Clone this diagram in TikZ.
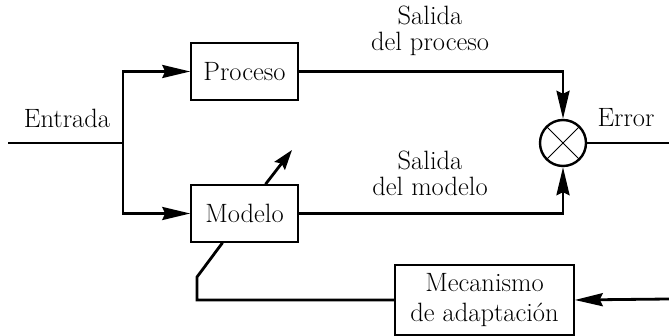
\documentclass[tikz,border=0pt]{standalone}
\usepackage{fontspec}
\usetikzlibrary{arrows.meta, positioning}

\begin{document}
\begin{tikzpicture}[x=1pt, y=-1pt, >={Stealth[length=28pt, width=13pt, inset=3pt]},
    every node/.style={font=\fontsize{26.5}{26}\selectfont},
    block/.style={draw, line width=1.5pt, minimum width=107pt, minimum height=57pt, align=center},
    sig/.style={line width=2.8pt}]
    \path[use as bounding box] (0,0) rectangle (669,336);
    % blocks
    \node[block] (proc) at (244.5,71.5) {Proceso};
    \node[block] (mod) at (244.5,213.5) {Modelo};
    \node[block, minimum width=179pt, minimum height=70pt, font=\fontsize{26.5}{30}\selectfont] (adapt) at (484.5,300) {Mecanismo\\de adaptación};
    \node[draw, circle, line width=2.4pt, minimum size=46pt, inner sep=0pt] (err) at (563,143) {};
    \draw[line width=1pt] (err.north west) -- (err.south east);
    \draw[line width=1pt] (err.north east) -- (err.south west);
    % free ends
    \coordinate (in) at (8,143);
    \coordinate (split) at (123,143);
    \coordinate (out) at (669,143);
    \coordinate (fb) at (669,299);
    \coordinate (kink) at (197,277);
    \coordinate (tune) at (292,150);
    % signals
    \draw[sig] (in) -- (split);
    \draw[sig, ->] (split) |- (proc);
    \draw[sig, ->] (split) |- (mod);
    \draw[sig, ->] (proc.east) -| (err.north);
    \draw[sig, ->] (mod.east) -| (err.south);
    \draw[sig] (err.east) -- (out);
    \draw[sig, ->] (fb) -- (adapt.east);
    \draw[sig] (adapt.west) -| (kink) -- ([xshift=-22pt]mod.south);
    \draw[sig, -{Stealth[length=20pt, width=13pt, inset=3pt]}] ([xshift=21pt]mod.north) -- (tune);
    % labels
    \node (lin) at (67,118) {Entrada};
    \node[align=center] (lproc) at (430,31) {Salida\\del proceso};
    \node[align=center] (lmod) at (430,173) {Salida\\del modelo};
    \node (lerr) at (626,118) {Error};
\end{tikzpicture}
\end{document}
